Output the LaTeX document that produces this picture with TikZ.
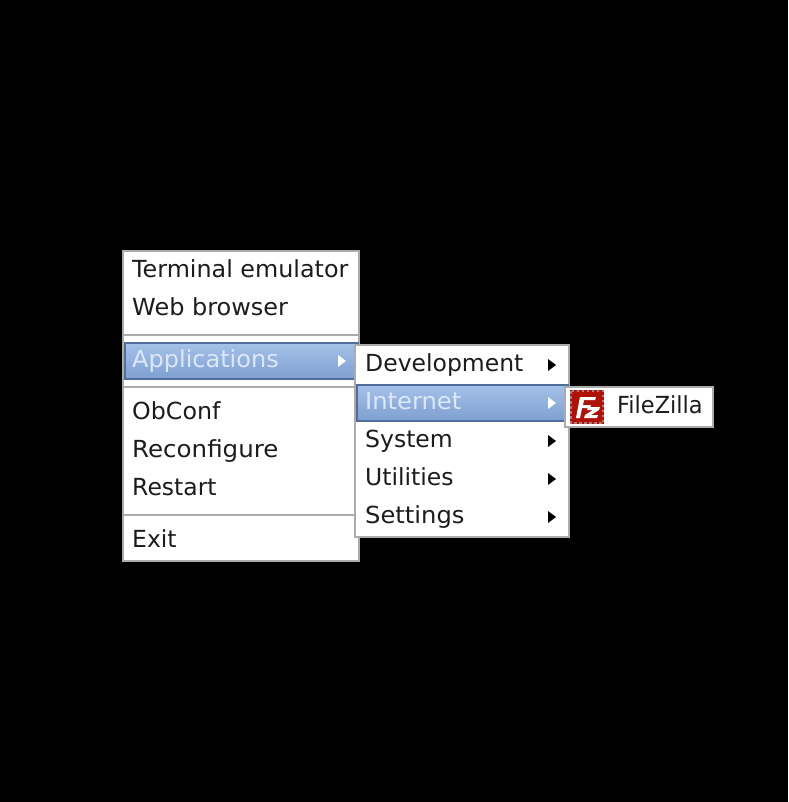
\documentclass[tikz,border=0pt]{standalone}
\usepackage{fontspec}
\setmainfont{DejaVu Sans}
\usepackage{tikz}
\definecolor{menugray}{HTML}{ABABAB}
\definecolor{menutext}{HTML}{1C1C1C}
\definecolor{seltext}{HTML}{DCE8F8}
\definecolor{selborder}{HTML}{4F6E9E}
\definecolor{seltop}{HTML}{A4C1E8}
\definecolor{selbottom}{HTML}{7F9FD1}
\definecolor{fzred}{HTML}{AE1208}
\tikzset{
  menubox/.style={draw=menugray,line width=2pt,fill=white},
  menusep/.style={draw=menugray,line width=2pt},
  selbar/.style={draw=selborder,line width=2pt,top color=seltop,bottom color=selbottom},
  menuitem/.style={anchor=base west,inner sep=0pt,text=menutext,font=\fontsize{23.5}{26}\selectfont},
  selitem/.style={menuitem,text=seltext},
  widen/.style={transform shape,xscale=#1},
}
\begin{document}
\begin{tikzpicture}[x=1pt,y=-1pt]
      \fill[black] (0,0) rectangle (788,802);
      % main menu
      \draw[menubox] (123,251) rectangle (359,561);
      \draw[menusep] (124,335)--(358,335);
      \draw[menusep] (124,387)--(358,387);
      \draw[menusep] (124,515)--(358,515);
      \draw[selbar] (125,343) rectangle (358,379);
      \node [menuitem,widen=1.014] (terminal) at (132,277) {Terminal emulator};
      \node [menuitem,widen=1.02] (browser) at (132,315) {Web browser};
      \node [selitem,widen=1.021] (applications) at (132,367) {Applications};
      \node [menuitem,widen=1.01] (obconf) at (132,419) {ObConf};
      \node [menuitem,widen=1.043] (reconfigure) at (132,457) {Reconfigure};
      \node [menuitem] (restart) at (132,495) {Restart};
      \node [menuitem] (exit) at (132,547) {Exit};
      \fill[white] (338,355)--(346,361)--(338,367)--cycle;
      % applications submenu
      \draw[menubox] (355,345) rectangle (569,537);
      \draw[selbar] (357,385) rectangle (568,421);
      \node [menuitem] (development) at (365,371) {Development};
      \node [selitem,widen=1.03] (internet) at (365,409) {Internet};
      \node [menuitem] (system) at (365,447) {System};
      \node [menuitem] (utilities) at (365,485) {Utilities};
      \node [menuitem,widen=1.03] (settings) at (365,523) {Settings};
      \fill[white] (548,397)--(556,403)--(548,409)--cycle;
      \foreach \y in {365,441,479,517}
        \fill[black] (548,\y-6)--(556,\y)--(548,\y+6)--cycle;
      % internet submenu
      \draw[menubox] (565,387) rectangle (713,427);
      \node [menuitem,widen=0.955] (filezilla) at (617,413) {FileZilla};
      \fill[fzred] (570,390) rectangle (604,424);
      \draw[menugray!70!fzred,line width=2pt,dash pattern=on 2.5pt off 2.5pt] (571,391) rectangle (603,423);
      \fill[white] (580,397)--(596,397)--(595,400)--(584,400)--(583,405)--(591,405)--(590,408)--(582,408)--(580,418)--(576,418)--cycle;
      \fill[white] (588,407)--(600,407)--(599,410)--(591,415)--(598,415)--(597,418)--(584,418)--(585,415)--(593,410)--(587,410)--cycle;
    \end{tikzpicture}
\end{document}
